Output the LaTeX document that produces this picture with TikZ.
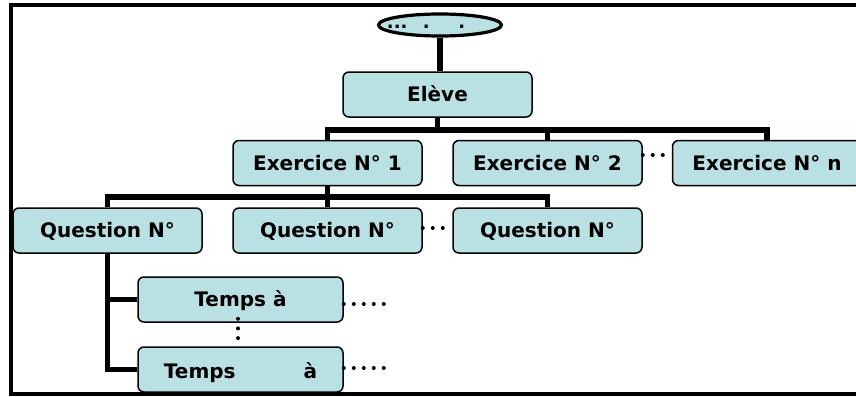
\documentclass[tikz,border=0pt]{standalone}
\usepackage{fontspec}
\setmainfont{DejaVu Sans}
\usetikzlibrary{shapes.geometric}
\definecolor{boxfill}{RGB}{185,224,227}
\begin{document}
\begin{tikzpicture}[x=1pt,y=-1pt,
  box/.style={draw=black, line width=1.5pt, fill=boxfill, rounded corners=6pt,
    minimum width=189pt, minimum height=45pt, inner sep=0pt,
    font=\fontsize{20}{24}\selectfont\bfseries, text height=14.6pt, text depth=0pt},
  wbox/.style={box, minimum width=205pt},
  topell/.style={ellipse, draw=black, line width=3.2pt, fill=boxfill,
    minimum width=123pt, minimum height=22pt, inner sep=0pt,
    font=\fontsize{18}{22}\selectfont\bfseries, text height=0pt, text depth=0pt},
  bus/.style={line width=5.5pt},
  dotl/.style={line width=4pt, line cap=round, dash pattern=on 0pt off 10pt}]
\useasboundingbox (0,0) rectangle (856,396);
\fill[white] (0,0) rectangle (856,396);
\draw[line width=4.5pt] (11,5) rectangle (900,394);

\node[topell] (top) at (440,25) {\makebox[0pt]{\raisebox{-3.5pt}{...\hspace{15.5pt}.\hspace{28.5pt}.\hspace{28pt}}}};
\node[box] (elev) at (437.5,94.5) {Elève};
\node[box] (ex1) at (327.5,163) {Exercice N° 1};
\node[box] (ex2) at (547.5,163) {Exercice N° 2};
\node[box] (exn) at (767,163) {Exercice N° n};
\node[box] (q1) at (107.5,230.5) {Question N°};
\node[box] (q2) at (327.5,230.5) {Question N°};
\node[box] (q3) at (547.5,230.5) {Question N°};
\node[wbox] (t1) at (240.5,299.5) {Temps à};
\node[wbox, text height=18.6pt] (t2) at (240.5,369.5) {Temps\hspace{68pt}à};

\coordinate (b1) at (0,130);
\coordinate (b2) at (0,197);
\coordinate (d1) at (388,304);
\coordinate (d2) at (388,368);

\draw[line width=6.5pt] (top.south) -- (top.south |- elev.north);
\draw[bus] (elev.south) -- (elev.south |- b1);
\draw[bus] (ex1.north) -- (ex1.north |- b1) -- (exn.north |- b1) -- (exn.north);
\draw[bus] (ex2.north) -- (ex2.north |- b1);
\draw[bus] (ex1.south) -- (ex1.south |- b2);
\draw[bus] (q1.north) -- (q1.north |- b2) -- (q3.north |- b2) -- (q3.north);
\draw[bus] (q2.north) -- (q2.north |- b2);
\draw[bus] (q1.south) |- (t2.west);
\draw[bus] (q1.south |- t1.west) -- (t1.west);

\draw[dotl] ([yshift=8pt]ex2.east) -- ([yshift=8pt]exn.west);
\draw[dotl] ([yshift=2.5pt]q2.east) -- ([yshift=2.5pt]q3.west);
\draw[dotl] (t1.east |- d1) -- (d1);
\draw[dotl] (t2.east |- d2) -- (d2);
\draw[dotl, dash pattern=on 0pt off 9.67pt] ([xshift=-2.5pt,yshift=4pt]t1.south) -- ([xshift=-2.5pt,yshift=-1pt]t2.north);
\end{tikzpicture}
\end{document}
